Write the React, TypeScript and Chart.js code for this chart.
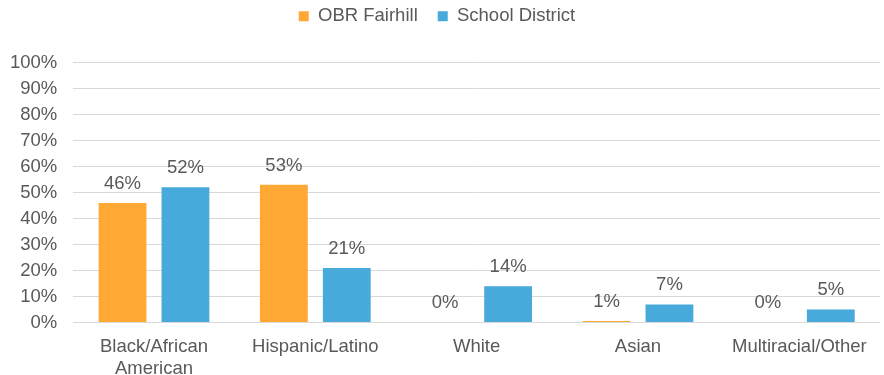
import React, { useEffect, useRef } from "react";
import { Chart, registerables } from "chart.js";

Chart.register(...registerables);

const categories: (string | string[])[] = [
  ["Black/African", "American"],
  "Hispanic/Latino",
  "White",
  "Asian",
  "Multiracial/Other",
];
const obrFairhill = [46, 53, 0.2, 0.6, 0.2];
const schoolDistrict = [52, 21, 14, 7, 5];
const seriesNames = ["OBR Fairhill", "School District"];
const yTicksMax = 100;

const ORANGE = "#FFA833";
const BLUE = "#47AADB";
const TEXT = "#595959";
const FONT = "'Liberation Sans', Arial, sans-serif";
const FS = 18.5;

const labelPlugin = {
  id: "barLabels",
  afterDatasetsDraw(chart: any) {
    const ctx = chart.ctx;
    ctx.save();
    ctx.font = `${FS}px ${FONT}`;
    ctx.fillStyle = TEXT;
    ctx.textAlign = "center";
    ctx.textBaseline = "bottom";
    chart.data.datasets.forEach((ds: any, i: number) => {
      const meta = chart.getDatasetMeta(i);
      meta.data.forEach((el: any, j: number) => {
        const v = Math.round(ds.data[j]);
        ctx.fillText(`${v}%`, el.x, el.y - 10);
      });
    });
    ctx.restore();
  },
};

const legendSpacer = {
  id: "legendSpacer",
  beforeInit(chart: any) {
    const legend = chart.legend;
    if (!legend) return;
    const orig = legend.fit;
    legend.fit = function () {
      orig.call(this);
      this.height += 27;
    };
  },
};

export default function App() {
  const ref = useRef<HTMLCanvasElement>(null);
  useEffect(() => {
    document.body.style.margin = "0";
    const chart = new Chart(ref.current!, {
      type: "bar",
      data: {
        labels: categories,
        datasets: [
          { label: seriesNames[0], data: obrFairhill, backgroundColor: ORANGE, categoryPercentage: 0.78, barPercentage: 0.76 },
          { label: seriesNames[1], data: schoolDistrict, backgroundColor: BLUE, categoryPercentage: 0.78, barPercentage: 0.76 },
        ],
      },
      options: {
        animation: false,
        responsive: false,
        layout: { padding: { left: -6, right: 4, top: -13, bottom: -10 } },
        plugins: {
          legend: {
            position: "top",
            labels: {
              boxWidth: 10,
              boxHeight: 10,
              padding: 20,
              color: TEXT,
              font: { size: FS, family: FONT },
            },
          },
          tooltip: { enabled: false },
        },
        scales: {
          x: {
            grid: { display: false },
            border: { display: false },
            ticks: { color: TEXT, font: { size: FS, family: FONT }, maxRotation: 0, padding: 5 },
          },
          y: {
            min: 0,
            max: yTicksMax,
            border: { display: false },
            grid: { color: "#D9D9D9", lineWidth: 1, drawTicks: false },
            ticks: {
              stepSize: 10,
              color: TEXT,
              font: { size: FS, family: FONT },
              padding: 16,
              callback: (v: any) => `${v}%`,
            },
          },
        },
      },
      plugins: [labelPlugin, legendSpacer],
    });
    return () => chart.destroy();
  }, []);
  return (
    <div style={{ width: 884, height: 375 }}>
      <canvas ref={ref} width={884} height={375} />
    </div>
  );
}
